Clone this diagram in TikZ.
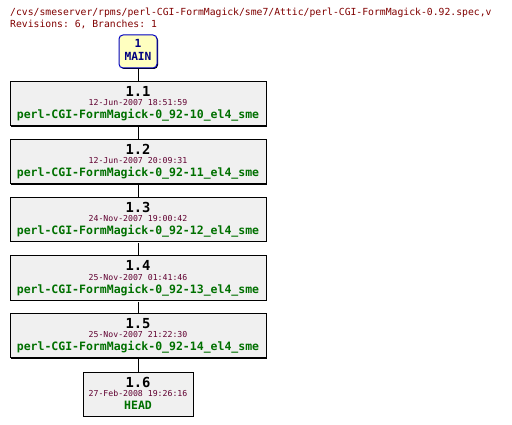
\documentclass[tikz,border=0pt]{standalone}
\usepackage{fontspec}
\setmonofont{DejaVu Sans Mono}
\usetikzlibrary{calc}
\usetikzlibrary{positioning}
\definecolor{title-red}{HTML}{800000}
\definecolor{date-red}{HTML}{600030}
\definecolor{tag-green}{HTML}{007000}
\definecolor{box-gray}{HTML}{F0F0F0}
\definecolor{main-yellow}{HTML}{FFFFC0}
\definecolor{main-blue}{HTML}{0000C0}
\definecolor{main-navy}{HTML}{000080}
\tikzstyle{revbox}=[draw=black,fill=box-gray,line width=1pt,minimum height=44pt,inner sep=0pt]
\tikzstyle{shadowbox}=[fill=black,minimum height=44pt,inner sep=0pt]
\tikzstyle{revnum}=[anchor=base,inner sep=0pt,font=\ttfamily\bfseries\fontsize{13.8}{14}\selectfont]
\tikzstyle{revdate}=[anchor=base,inner sep=0pt,text=date-red,font=\ttfamily\fontsize{8.2}{9}\selectfont]
\tikzstyle{revtag}=[anchor=base,inner sep=0pt,text=tag-green,font=\ttfamily\bfseries\fontsize{11.5}{12}\selectfont]
\tikzstyle{trunk}=[black,line width=1pt]
\newcommand{\revision}[6]{ % name, y centre, width, number, date, tag
	\node[shadowbox,minimum width=#3] at (139,#2+1) {};
	\node[revbox,minimum width=#3] (#1) at (138,#2) {};
	\node[revnum] (#1num) at ($(#1.center)+(0,-7)$) {#4};
	\node[revdate] (#1date) at ($(#1.center)+(0,2)$) {#5};
	\node[revtag] (#1tag) at ($(#1.center)+(0,15)$) {#6};
}
\begin{document}
\begin{tikzpicture}[x=1pt,y=-1pt]
\useasboundingbox (0,0) rectangle (512,425);
% header
\node[anchor=base west,inner sep=0pt,text=title-red,font=\ttfamily\fontsize{9.75}{11}\selectfont] (path) at (10,16) {/cvs/smeserver/rpms/perl-CGI-FormMagick/sme7/Attic/perl-CGI-FormMagick-0.92.spec,v};
\node[anchor=base west,inner sep=0pt,text=title-red,font=\ttfamily\fontsize{9.75}{11}\selectfont] (counts) at (10,28) {Revisions: 6, Branches: 1};
% branch head
\node[fill=black,rounded corners=4pt,minimum width=38pt,minimum height=33pt,inner sep=0pt] at (139,52.5) {};
\node[draw=main-blue,fill=main-yellow,line width=1pt,rounded corners=4pt,minimum width=38pt,minimum height=33pt,inner sep=0pt] (main) at (138,51.5) {};
\node[anchor=base,inner sep=0pt,text=main-navy,font=\ttfamily\bfseries\fontsize{11.2}{12}\selectfont] (mainnum) at (138,48) {1};
\node[anchor=base,inner sep=0pt,text=main-navy,font=\ttfamily\bfseries\fontsize{11.2}{12}\selectfont] (mainname) at (138,61) {MAIN};
% revisions
\revision{r1}{104}{256pt}{1.1}{12-Jun-2007 18:51:59}{perl-CGI-FormMagick-0\_92-10\_el4\_sme}
\revision{r2}{162}{256pt}{1.2}{12-Jun-2007 20:09:31}{perl-CGI-FormMagick-0\_92-11\_el4\_sme}
\revision{r3}{219.5}{256pt}{1.3}{24-Nov-2007 19:00:42}{perl-CGI-FormMagick-0\_92-12\_el4\_sme}
\revision{r4}{278}{256pt}{1.4}{25-Nov-2007 01:41:46}{perl-CGI-FormMagick-0\_92-13\_el4\_sme}
\revision{r5}{335.5}{256pt}{1.5}{25-Nov-2007 21:22:30}{perl-CGI-FormMagick-0\_92-14\_el4\_sme}
\revision{r6}{394}{110pt}{1.6}{27-Feb-2008 19:26:16}{HEAD}
% trunk lines
\draw[trunk] ([yshift=-1pt]main.south) -- (r1.north);
\draw[trunk] ([yshift=-1pt]r1.south) -- (r2.north);
\draw[trunk] ([yshift=-1pt]r2.south) -- (r3.north);
\draw[trunk] ([yshift=-1pt]r3.south) -- (r4.north);
\draw[trunk] ([yshift=-1pt]r4.south) -- (r5.north);
\draw[trunk] ([yshift=-1pt]r5.south) -- (r6.north);
\end{tikzpicture}
\end{document}
